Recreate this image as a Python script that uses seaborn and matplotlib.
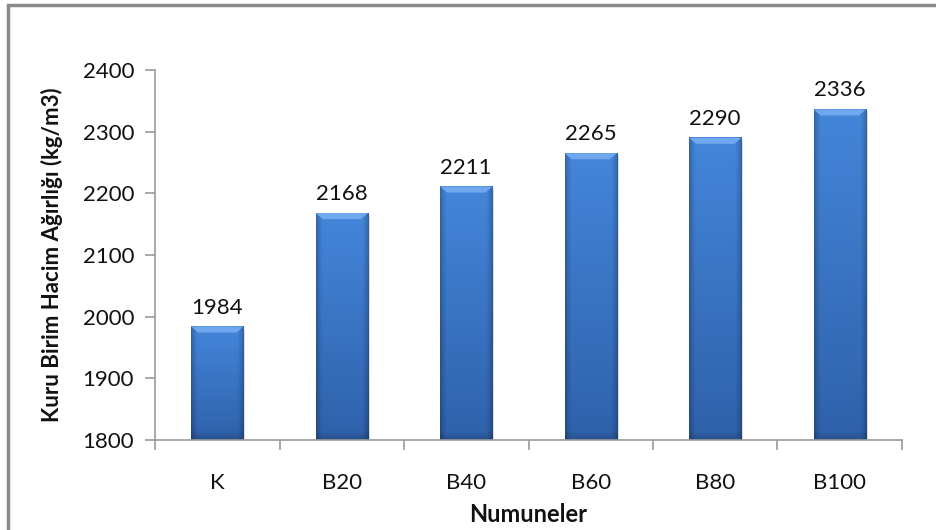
import numpy as np
import pandas as pd
import matplotlib
matplotlib.use("Agg")
import matplotlib.pyplot as plt
from matplotlib.colors import to_rgb
from matplotlib.patches import Rectangle, Polygon
import seaborn as sns

samples = ["K", "B20", "B40", "B60", "B80", "B100"]
unit_weight = [1984, 2168, 2211, 2265, 2290, 2336]
y_ticks = [1800, 1900, 2000, 2100, 2200, 2300, 2400]

sns.set_theme(style="white")
plt.rcParams["font.family"] = ["Lato", "DejaVu Sans"]

df = pd.DataFrame({"Numune": samples, "Deger": unit_weight})

Y0, Y1 = 1800, 2400
fig = plt.figure(figsize=(9.37, 5.30), dpi=100)
ax = fig.add_axes([155 / 937, 1 - 440 / 530, (902 - 155) / 937, (440 - 70) / 530])

sns.barplot(data=df, x="Numune", y="Deger", color="#3b76c8", width=0.42,
            ax=ax, saturation=1, edgecolor="none")
ax.set_xlim(-0.5, len(samples) - 0.5)
ax.set_ylim(Y0, Y1)

# pixel scale helpers (data units per pixel)
px_y = (Y1 - Y0) / 370.0
px_x = len(samples) / 747.0

top_c = np.array(to_rgb("#4486da"))
bot_c = np.array(to_rgb("#2f61aa"))


def bar_shading(n_rows, n_cols=60):
    # one row per pixel, row 0 at the top of the bar
    t = np.linspace(0, 1, n_rows)[:, None, None]
    base = top_c * (1 - t) + bot_c * t
    u = np.linspace(0, 1, n_cols)[None, :, None]
    edge = np.minimum(u, 1 - u)
    factor = 0.74 + 0.26 * np.clip(edge / 0.12, 0, 1) ** 0.7
    img = base * factor
    # soft darker band at the foot of the bar (about 9 px)
    from_bottom = (n_rows - 1 - np.arange(n_rows))[:, None, None]
    foot = 1.0 - 0.16 * np.clip(1 - from_bottom / 9.0, 0, 1)
    img = img * foot
    return np.clip(img, 0, 1)


for p in list(ax.patches):
    x0, w = p.get_x(), p.get_width()
    top = p.get_y() + p.get_height()
    bottom = Y0
    p.set_visible(False)
    rows = max(int(round((top - bottom) / px_y)), 4)
    img = bar_shading(rows)
    ax.imshow(img, aspect="auto", extent=[x0, x0 + w, bottom, top],
              zorder=2, interpolation="bilinear")
    # bevel along the top edge
    dy = 6 * px_y
    dx = 7 * px_x
    ax.add_patch(Polygon([[x0, top], [x0 + w, top], [x0 + w - dx, top - dy], [x0 + dx, top - dy]],
                         closed=True, facecolor="#6fa8ee", edgecolor="none", zorder=3))
    # faint shadow to the right of the bar
    ax.add_patch(Rectangle((x0 + w, bottom), 2 * px_x, top - bottom - 2 * px_y,
                           facecolor="#dcdcdc", edgecolor="none", zorder=1.5))

ax.set_xlim(-0.5, len(samples) - 0.5)
ax.set_ylim(Y0, Y1)

for i, v in enumerate(unit_weight):
    ax.text(i, v + 9 * px_y, str(v), ha="center", va="bottom", fontsize=16, color="#111111")

for s in ["top", "right"]:
    ax.spines[s].set_visible(False)
for s in ["left", "bottom"]:
    ax.spines[s].set_color("#9a9a9a")
    ax.spines[s].set_linewidth(1.2)
    ax.spines[s].set_zorder(4)

# x ticks between categories
ax.set_xticks(range(len(samples)))
ax.set_xticklabels(samples)
ax.set_xticks(np.arange(-0.5, len(samples), 1), minor=True)
ax.tick_params(axis="x", which="major", length=0, pad=24, labelsize=16, labelcolor="#111111")
ax.tick_params(axis="x", which="minor", length=7, width=1.2, color="#9a9a9a", direction="out",
               bottom=True)
ax.tick_params(axis="y", length=7, width=1.2, color="#9a9a9a", direction="out", left=True,
               pad=8, labelsize=16, labelcolor="#111111")

ax.set_xlabel("Numuneler", fontsize=17, fontweight="bold", color="#111111")
ax.xaxis.set_label_coords(0.5, (440 - 503) / 370)
ax.set_ylabel("Kuru Birim Hacim Ağırlığı (kg/m3)", fontsize=16, fontweight="bold",
              color="#111111", labelpad=14)

# outer chart frame
fig.patches.append(Rectangle((8 / 937, -0.05), 1.1, 1 - 5 / 530 + 0.05,
                             transform=fig.transFigure, fill=False,
                             edgecolor="#8a8a8a", linewidth=2.5))

fig.savefig("out.png", dpi=100, facecolor="white")
